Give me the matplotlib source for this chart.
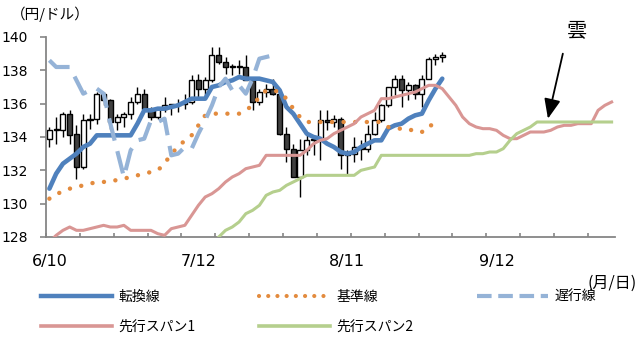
import numpy as np
import matplotlib
matplotlib.use("Agg")
import matplotlib.pyplot as plt
from matplotlib.lines import Line2D

plt.rcParams['font.family'] = ['DejaVu Sans', 'Noto Sans CJK JP']

# --- daily candles (6/10 - 8/31) ---
dates = ['6/10', '7/12', '8/11', '9/12']
date_pos = [0, 22, 44, 66]

opens = [133.9, 134.4, 134.4, 135.4, 134.2, 132.2, 135.0, 135.1, 136.6, 136.2,
         134.9, 135.2, 135.4, 136.1, 136.6, 135.7, 135.2, 135.7, 135.9, 135.9,
         136.0, 136.1, 137.4, 136.9, 137.4, 138.9, 138.5, 138.2, 138.2, 138.2,
         137.4, 136.1, 136.7, 136.9, 136.6, 134.2, 133.3, 131.6, 133.2, 133.8,
         133.9, 135.0, 134.9, 135.1, 132.9, 133.0, 133.4, 133.3, 134.2, 135.0,
         135.9, 137.0, 137.5, 136.8, 137.1, 136.6, 137.5, 138.7, 138.8]
highs = [134.6, 135.2, 135.5, 135.6, 134.7, 135.4, 135.4, 136.7, 136.7, 136.3,
         135.4, 135.5, 136.4, 137.0, 136.9, 135.8, 135.8, 136.4, 136.0, 136.3,
         136.6, 137.7, 137.8, 137.6, 139.4, 139.4, 138.8, 138.4, 138.6, 138.9,
         137.6, 136.9, 137.2, 137.5, 136.6, 134.6, 133.6, 133.9, 134.2, 134.0,
         135.6, 135.6, 135.3, 135.2, 133.2, 134.0, 133.8, 134.7, 135.5, 136.0,
         137.0, 137.7, 137.7, 137.3, 137.2, 137.7, 138.8, 139.0, 139.1]
lows = [133.4, 133.6, 134.0, 133.6, 131.5, 132.1, 134.5, 134.8, 135.9, 134.5,
        134.4, 134.6, 135.1, 136.0, 135.6, 135.0, 135.1, 135.5, 135.3, 135.5,
        135.7, 136.0, 136.4, 136.3, 137.3, 138.4, 137.8, 137.7, 137.8, 137.4,
        135.6, 135.9, 136.4, 136.5, 134.1, 132.5, 131.6, 130.4, 132.9, 132.9,
        132.6, 134.4, 134.6, 132.1, 131.7, 132.5, 132.6, 133.1, 134.1, 134.9,
        135.8, 136.5, 135.8, 136.2, 136.3, 135.8, 137.5, 138.3, 138.5]
closes = [134.4, 134.4, 135.4, 134.1, 132.2, 135.0, 135.1, 136.6, 136.2, 134.9,
          135.2, 135.4, 136.1, 136.6, 135.7, 135.2, 135.7, 135.9, 135.9, 136.0,
          136.1, 137.4, 136.9, 137.4, 138.9, 138.5, 138.2, 138.2, 138.2, 137.4,
          136.1, 136.7, 136.9, 136.6, 134.2, 133.3, 131.6, 133.2, 133.8, 133.9,
          135.0, 134.9, 135.1, 132.9, 133.0, 133.4, 133.3, 134.2, 135.0, 135.9,
          137.0, 137.5, 136.8, 137.1, 136.6, 137.5, 138.7, 138.8, 138.9]

# --- ichimoku lines ---
tenkan = [130.9, 131.8, 132.4, 132.7, 133.0, 133.4, 133.6, 134.1, 134.1, 134.1,
          134.1, 134.1, 134.1, 134.8, 135.6, 135.6, 135.7, 135.7, 135.8, 135.9,
          136.1, 136.3, 136.3, 136.3, 137.0, 137.1, 137.3, 137.4, 137.6, 137.5,
          137.5, 137.5, 137.4, 137.3, 136.8, 135.8, 135.4, 134.8, 134.2, 134.0,
          133.9, 133.6, 133.4, 133.1, 133.0, 133.1, 133.4, 133.6, 133.8, 133.8,
          134.5, 134.7, 134.8, 135.1, 135.3, 135.4, 136.2, 136.9, 137.5]
kijun = [130.3, 130.6, 130.7, 130.9, 131.0, 131.1, 131.2, 131.3, 131.3, 131.4,
         131.4, 131.5, 131.6, 131.7, 131.8, 131.9, 132.0, 132.4, 133.0, 133.4,
         133.8, 134.1, 134.7, 135.3, 135.4, 135.4, 135.4, 135.4, 135.4, 135.6,
         135.9, 136.4, 136.8, 136.8, 136.7, 136.3, 135.7, 135.2, 134.9, 134.9,
         134.9, 134.9, 134.9, 134.9, 134.9, 134.9, 134.9, 134.9, 134.9, 134.9,
         134.6, 134.5, 134.5, 134.5, 134.3, 134.3, 134.7, 134.7]
chikou = [138.6, 138.2, 138.2, 138.2, 137.4, 136.6, 136.8, 136.9, 136.6, 134.8,
          133.2, 131.6, 133.2, 133.8, 133.9, 135.0, 134.9, 135.1, 132.9, 133.0,
          133.4, 133.3, 134.2, 135.0, 135.9, 137.0, 137.5, 136.8, 137.1, 136.6,
          137.5, 138.7, 138.8, 138.9]
span1 = [127.7, 128.1, 128.4, 128.6, 128.4, 128.4, 128.5, 128.6, 128.7, 128.6,
         128.6, 128.7, 128.4, 128.4, 128.4, 128.4, 128.2, 128.1, 128.5, 128.6,
         128.7, 129.3, 129.9, 130.4, 130.6, 130.9, 131.3, 131.6, 131.8, 132.1,
         132.2, 132.3, 132.9, 132.9, 132.9, 132.9, 132.9, 132.9, 133.2, 133.6,
         133.8, 133.9, 134.2, 134.4, 134.6, 134.8, 135.2, 135.4, 135.6, 136.3,
         136.3, 136.4, 136.5, 136.6, 136.7, 136.9, 137.1, 137.1, 136.9, 136.4,
         135.9, 135.2, 134.8, 134.6, 134.5, 134.5, 134.4, 134.1, 133.9, 133.9,
         134.1, 134.3, 134.3, 134.3, 134.4, 134.6, 134.7, 134.7, 134.8, 134.8,
         134.8, 135.6, 135.9, 136.1]
span2 = [np.nan] * 24 + [
         127.4, 128.0, 128.4, 128.6, 128.9, 129.4,
         129.6, 129.9, 130.5, 130.7, 130.8, 131.1, 131.3, 131.5, 131.7, 131.7,
         131.7, 131.7, 131.7, 131.7, 131.7, 131.7, 132.0, 132.1, 132.2, 132.9,
         132.9, 132.9, 132.9, 132.9, 132.9, 132.9, 132.9, 132.9, 132.9, 132.9,
         132.9, 132.9, 132.9, 133.0, 133.0, 133.1, 133.1, 133.3, 133.8, 134.2,
         134.4, 134.6, 134.9, 134.9, 134.9, 134.9, 134.9, 134.9, 134.9, 134.9,
         134.9, 134.9, 134.9, 134.9]

c_tenkan = '#4F81BD'
c_kijun = '#E38B3E'
c_chikou = '#95B3D7'
c_span1 = '#D99694'
c_span2 = '#B5CF8D'

fig = plt.figure(figsize=(6.4, 3.41), dpi=100)
ax = fig.add_axes([46 / 640, 104 / 341, 569 / 640, 200 / 341])

# candles
xi = np.arange(len(closes))
o = np.array(opens)
c = np.array(closes)
ax.vlines(xi, lows, highs, color='black', lw=1.0, zorder=1)
body_lo = np.minimum(o, c)
body_h = np.maximum(np.abs(c - o), 0.06)
face = ['white' if cc >= oo else '#404040' for oo, cc in zip(o, c)]
ax.bar(xi, body_h, bottom=body_lo, width=0.75, color=face,
       edgecolor='black', linewidth=1.0, zorder=2)

# lines
ax.plot(np.arange(len(tenkan)), tenkan, color=c_tenkan, lw=3.3, zorder=3,
        solid_capstyle='round')
ax.plot(np.arange(len(kijun)), kijun, color=c_kijun, lw=3.2, zorder=4,
        linestyle=(0, (0.01, 2.6)), dash_capstyle='round')
ax.plot(np.arange(len(chikou)), chikou, color=c_chikou, lw=3.0, zorder=5,
        linestyle=(0, (5.5, 2.6)))
ax.plot(np.arange(len(span1)), span1, color=c_span1, lw=2.2, zorder=4)
ax.plot(np.arange(len(span2)), span2, color=c_span2, lw=2.2, zorder=4)

ax.set_xlim(-0.5, 83.5)
ax.set_ylim(128, 140)
ax.set_yticks(np.arange(128, 141, 2))
ax.set_xticks(date_pos)
ax.set_xticklabels(dates)
ax.set_xticks(np.arange(-0.5, 84, 5), minor=True)

for s in ['top', 'right']:
    ax.spines[s].set_visible(False)
for s in ['left', 'bottom']:
    ax.spines[s].set_color('#868686')
    ax.spines[s].set_linewidth(1.3)

ax.tick_params(axis='y', direction='out', length=4, width=1.2, color='#868686',
               labelsize=10, pad=9)
ax.tick_params(axis='x', which='major', length=0, labelsize=11.5, pad=12)
ax.tick_params(axis='x', which='minor', direction='in', length=3, width=1.2,
               color='#868686')

fig.text(11 / 640, 1 - 14 / 341, '（円/ドル）', fontsize=10.5,
         family=['Noto Sans CJK JP'], ha='left', va='center')
fig.text(637 / 640, 1 - 283 / 341, '(月/日)', fontsize=11.5,
         family=['Noto Sans CJK JP'], ha='right', va='center')

# cloud annotation
ax.annotate('', xy=(73.6, 135.1), xytext=(75.8, 139.0),
            arrowprops=dict(arrowstyle='-|>,head_length=0.6,head_width=0.25',
                            color='black', lw=1.3, mutation_scale=20,
                            shrinkA=0, shrinkB=0),
            annotation_clip=False)
ax.text(77.9, 140.4, '雲', fontsize=14.5, family=['Noto Sans CJK JP'],
        ha='center', va='center', clip_on=False)

handles = [
    Line2D([], [], color=c_tenkan, lw=3.2),
    Line2D([], [], color=c_span1, lw=2.6),
    Line2D([], [], color=c_kijun, lw=3.0, linestyle=(0, (0.01, 2.2)),
           dash_capstyle='round'),
    Line2D([], [], color=c_span2, lw=2.6),
    Line2D([], [], color=c_chikou, lw=3.0, linestyle=(0, (3.5, 1.6))),
]
labels = ['転換線', '先行スパン1', '基準線', '先行スパン2', '遅行線']
fig.legend(handles, labels, ncol=3, loc='upper left',
           bbox_to_anchor=(41 / 640, 1 - 290 / 341), frameon=False,
           prop={'family': ['Noto Sans CJK JP'], 'size': 10},
           handlelength=5.1, handletextpad=0.45, columnspacing=4.6,
           borderpad=0, borderaxespad=0, labelspacing=1.15)

fig.savefig('out.png', dpi=100)
